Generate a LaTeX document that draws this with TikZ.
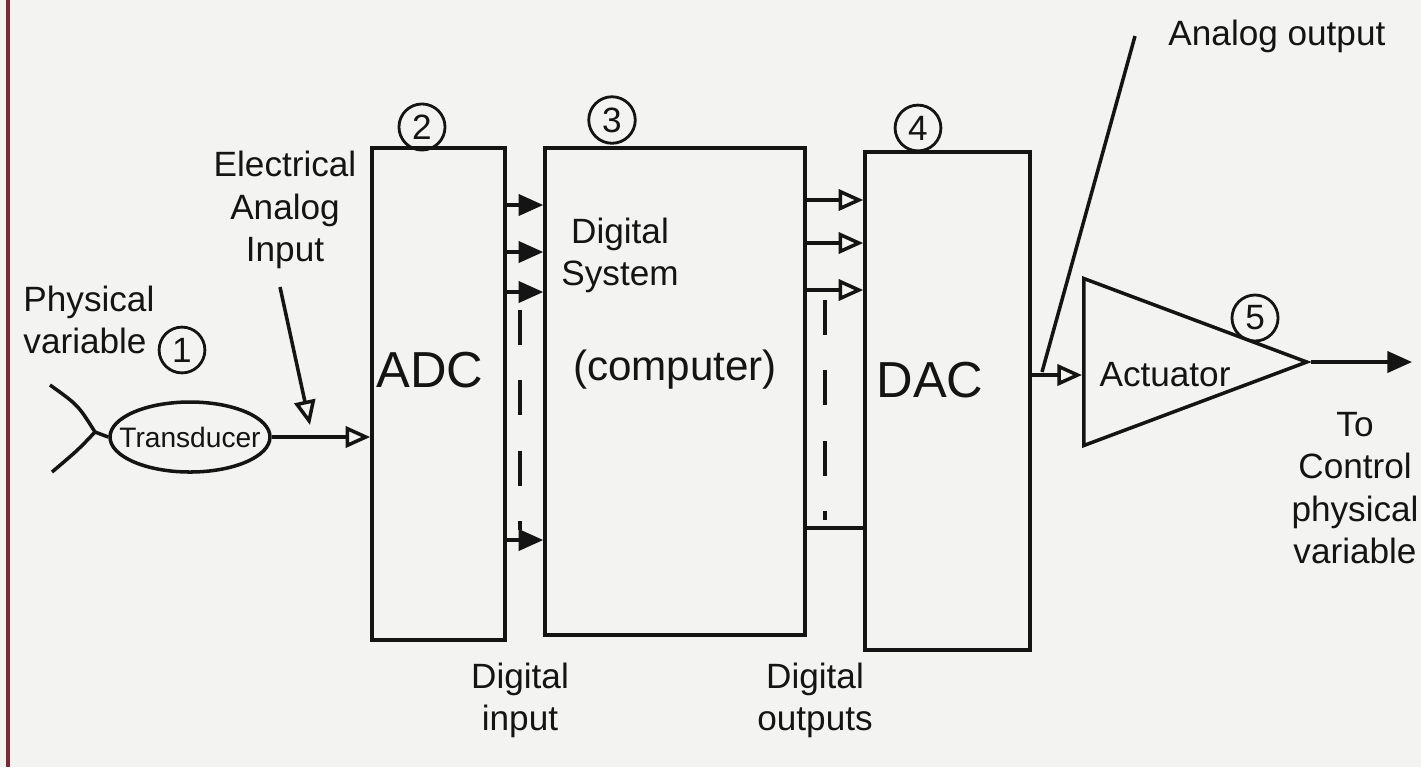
\documentclass[tikz,border=0pt]{standalone}
\usepackage{fontspec}
\setmainfont{Liberation Sans}
\usepackage{xcolor}
\usepackage{tikz}
\usetikzlibrary{shapes.geometric, arrows.meta, positioning, calc}
\definecolor{paper}{HTML}{F3F3F1}
\definecolor{ink}{HTML}{141414}
\definecolor{margincolor}{HTML}{7A2A35}

\begin{document}
\begin{tikzpicture}[
    line width=1pt, draw=ink, text=ink,
    box/.style={rectangle, draw=ink, line width=1pt, inner sep=0pt},
    num/.style={circle, draw=ink, line width=0.8pt, inner sep=1.5pt, font=\normalsize},
    lbl/.style={font=\normalsize, align=center},
    bus/.style={-{Triangle[length=7pt, width=6pt]}},
    busopen/.style={-{Triangle[open, length=7pt, width=6pt]}}
]
% paper and margin
\fill[paper] (0,0) rectangle (14.21,-7.67);
\useasboundingbox (0,0) rectangle (14.21,-7.67);
\draw[margincolor, line width=1.2pt] (0.08,0) -- (0.08,-7.67);

% -- INPUT: physical variable and transducer --
\node[lbl, align=left, anchor=west] (physlbl) at (0.1,-3.2) {Physical\\variable};
\node[num] (n1) at (1.82,-3.5) {1};
\node[ellipse, draw=ink, line width=1pt, minimum width=1.6cm, minimum height=0.7cm, inner xsep=-0.2cm, inner ysep=0pt, font=\footnotesize] (trans) at (1.9,-4.37) {Transducer};
\coordinate (fork) at (0.95,-4.32);
\draw (0.5,-3.85) .. controls (0.78,-4.05) .. (fork);
\draw (0.52,-4.72) .. controls (0.78,-4.5) .. (fork);
\draw (fork) -- (trans.west);

\node[lbl] (eailbl) at (2.85,-2.1) {Electrical\\Analog\\Input};

% -- CONVERTERS AND COMPUTER --
\node[box, minimum width=1.33cm, minimum height=4.92cm] (adc) at (4.385,-3.94) {};
\node[box, minimum width=2.6cm, minimum height=4.87cm] (comp) at (6.75,-3.915) {};
\node[box, minimum width=1.65cm, minimum height=4.98cm] (dac) at (9.475,-4.01) {};

\node[font=\Large] (adclbl) at (4.3,-3.7) {ADC};
\node[lbl] (complbl) at (6.2,-2.55) {Digital\\System};
\node[font=\large] (complbl2) at (6.75,-3.7) {(computer)};
\node[font=\Large] (daclbl) at (9.3,-3.8) {DAC};

\node[num] (n2) at (4.22,-1.27) {2};
\node[num] (n3) at (6.12,-1.2) {3};
\node[num] (n4) at (9.18,-1.28) {4};

% transducer output into ADC
\draw[busopen] (trans.east) -- (trans.east -| adc.west) coordinate (adcin);
\coordinate (eaitip) at (3.1,-4.25);
\draw[busopen] (eailbl.south) ++(-0.05,-0.05) -- (eaitip);

% ADC to computer
\foreach \y in {2.05,2.52,2.92,5.40}
    \draw[bus] (adc.east |- 0,-\y) -- (comp.west |- 0,-\y);
\draw[dashed, dash pattern=on 10pt off 10pt] (5.2,-3.1) -- (5.2,-5.3);

% computer to DAC
\foreach \y in {2.00,2.43,2.90}
    \draw[busopen] (comp.east |- 0,-\y) -- (dac.west |- 0,-\y);
\draw (comp.east |- 0,-5.28) -- (dac.west |- 0,-5.28);
\draw[dashed, dash pattern=on 10pt off 10pt] (8.25,-3.0) -- (8.25,-5.2);

\node[lbl] (dinlbl) at (5.2,-7.0) {Digital\\input};
\node[lbl] (doutlbl) at (8.15,-7.0) {Digital\\outputs};

% -- OUTPUT: actuator --
\node[isosceles triangle, isosceles triangle stretches, draw=ink, line width=1pt, minimum width=1.67cm, minimum height=2.23cm, inner sep=0pt, anchor=west] (act) at (10.82,-3.62) {};
\node[font=\normalsize] (actlbl) at (11.65,-3.75) {Actuator};
\node[num] (n5) at (12.55,-3.18) {5};

\draw[busopen] (dac.east |- 0,-3.75) -- (act.west |- 0,-3.75);
\coordinate (aostart) at (10.42,-3.72);
\node[lbl, anchor=west] (aolbl) at (11.55,-0.36) {Analog output};
\draw (aostart) -- ([xshift=-2mm]aolbl.west);

\coordinate (outend) at (14.12,-3.7);
\draw[bus] (act.apex) -- (act.apex -| outend);
\node[lbl] (ctrllbl) at (13.55,-4.88) {To\\Control\\physical\\variable};

\end{tikzpicture}
\end{document}
